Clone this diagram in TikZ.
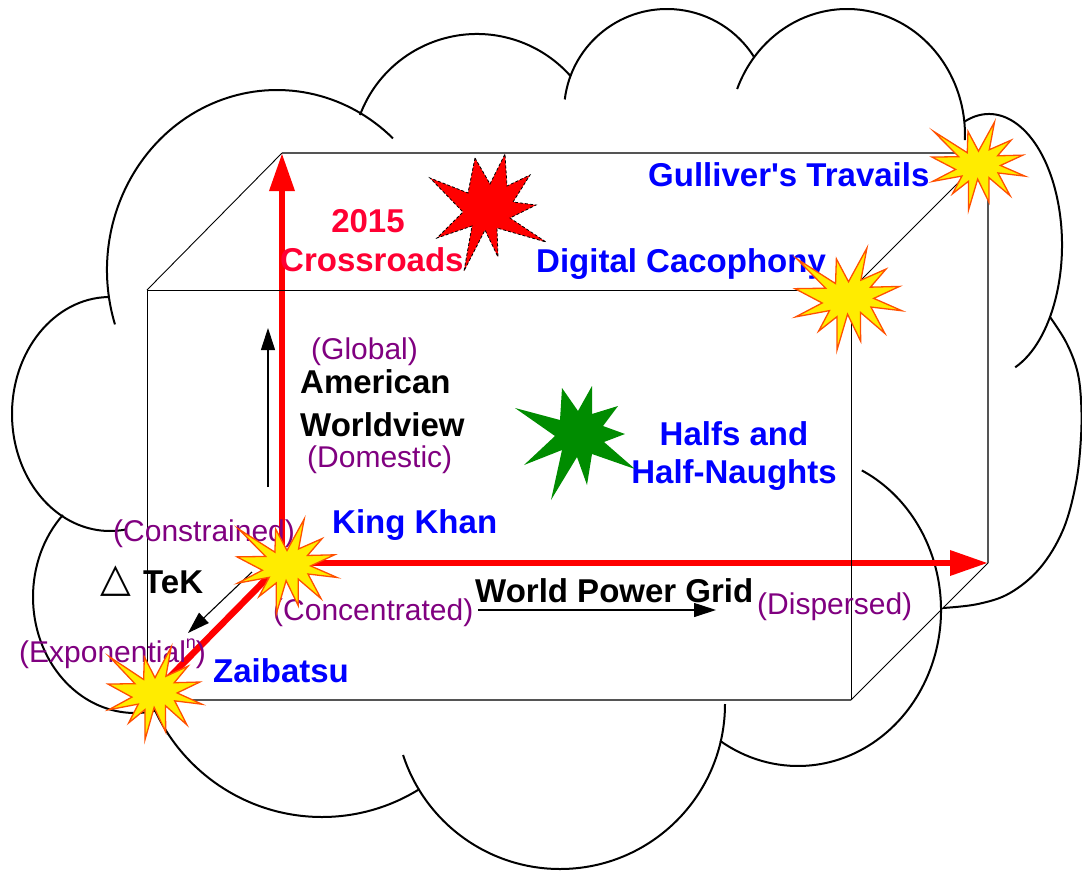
\documentclass[tikz,border=0pt]{standalone}
\usepackage{fontspec}
\setmainfont{Liberation Sans}
\newfontfamily\plainsans{Liberation Sans}
\newfontfamily\symfont{DejaVu Sans}
\usetikzlibrary{arrows.meta}
\definecolor{myblue}{RGB}{0,0,255}
\definecolor{mypurple}{RGB}{128,0,128}
\definecolor{myred}{RGB}{255,0,0}
\definecolor{textred}{RGB}{255,0,51}
\definecolor{boxgray}{RGB}{85,85,85}
\definecolor{starfill}{RGB}{255,236,0}
\definecolor{starline}{RGB}{255,80,0}
\definecolor{mygreen}{RGB}{0,140,0}
\newcommand\boomstar[4]{%
  \begin{scope}[shift={(#1,#2)}, xscale=#3/100, yscale=#4/100]
    \draw[yellowstar] (50,33.1) -- (67.23,0) -- (61.6,31.5) -- (85.09,20.63) -- (70.5,38.4) -- (97.67,37.67) -- (73.6,49.4) -- (100,61.53) -- (71.0,57.9) -- (84.00,83.77) -- (61.2,63.2) -- (61.33,91.38) -- (49.1,64.9) -- (39.28,100) -- (39.3,67.3) -- (22.05,81.56) -- (32.2,61.4) -- (0.63,67.53) -- (25.4,53.9) -- (0,39.88) -- (28.6,39.4) -- (1.71,10.63) -- (37.9,34.9) -- (38.67,10.63) -- cycle;
  \end{scope}}
\begin{document}
\begin{tikzpicture}[x=1pt,y=-1pt,
  cloudline/.style={line width=2pt, black},
  frontedge/.style={line width=0.9pt, black},
  backedge/.style={line width=1.6pt, boxgray},
  redarrow/.style={line width=6.5pt, myred, -{Triangle[length=38pt,width=24pt]}},
  redline/.style={line width=6.5pt, myred},
  thinarrow/.style={line width=1.1pt, black, -{Triangle[length=22pt,width=14pt]}},
  yellowstar/.style={fill=starfill, draw=starline, line width=1.3pt, line join=miter, miter limit=20},
  bluelabel/.style={font=\fontsize{33}{36}\selectfont\bfseries, text=myblue, inner sep=0pt, anchor=base west},
  blacklabel/.style={font=\fontsize{33}{36}\selectfont\bfseries, text=black, inner sep=0pt, anchor=base west},
  redlabel/.style={font=\fontsize{33}{36}\selectfont\bfseries, text=textred, inner sep=0pt, anchor=base west},
  purplelabel/.style={font=\fontsize{30}{33}\selectfont, text=mypurple, inner sep=0pt, anchor=base west}]
\fill[white] (0,0) rectangle (1082,873);
\useasboundingbox (0,0) rectangle (1082,873);

% ---------- cloud ----------
\draw[cloudline] ([shift={(110,414)}]-91:98 and 117) arc[start angle=-91, end angle=-279, x radius=98, y radius=117];
\draw[cloudline] ([shift={(277,270)}]-197.6:170 and 180) arc[start angle=-197.6, end angle=-47, x radius=170, y radius=180];
\draw[cloudline] ([shift={(477,159)}]-159.4:125 and 125) arc[start angle=-159.4, end angle=-41.4, x radius=125, y radius=125];
\draw[cloudline] ([shift={(667,112)}]-173:103 and 103) arc[start angle=-173, end angle=-32.6, x radius=103, y radius=103];
\draw[cloudline] ([shift={(847,135)}]-158.6:118 and 126) arc[start angle=-158.6, end angle=2.3, x radius=118, y radius=126];
\draw[cloudline] ([shift={(989,245)}]-110:73 and 131) arc[start angle=-110, end angle=69, x radius=73, y radius=131];
\draw[cloudline] plot[smooth, tension=0.6] coordinates {(1050,317) (1066,342) (1077,370) (1081,400) (1081,437) (1076,483) (1063,530) (1040,568) (1010,593) (978,604) (943,608)};
\draw[cloudline] ([shift={(798,610)}]-63.5:143 and 156) arc[start angle=-63.5, end angle=123, x radius=143, y radius=156];
\draw[cloudline] ([shift={(560,704)}]0:165 and 165) arc[start angle=0, end angle=162, x radius=165, y radius=165];
\draw[cloudline] ([shift={(322,633)}]-204:184 and 184) arc[start angle=-204, end angle=-302, x radius=184, y radius=184];
\draw[cloudline] ([shift={(135,597)}]-135:102 and 116) arc[start angle=-135, end angle=-287, x radius=102, y radius=116];

% ---------- box corners ----------
\coordinate (Ftl) at (147,290);
\coordinate (Ftr) at (851,290);
\coordinate (Fbr) at (851,700);
\coordinate (Fbl) at (147,700);
\coordinate (Btl) at (282,153);
\coordinate (Btr) at (988,153);
\coordinate (Bbr) at (988,563);
\coordinate (Bbl) at (282,563);
\coordinate (Zend) at (152,695);

% ---------- red axes ----------
\draw[redarrow] (Bbl) -- (Btl);
\draw[redarrow] (Bbl) -- (Bbr);
\draw[redline] (Bbl) -- (Zend);

% ---------- box ----------
\draw[frontedge] (Fbl) -- (Ftl) -- (Ftr) -- (Fbr);
\draw[backedge] (Fbl) -- (Fbr);
\draw[frontedge] (Ftl) -- (Btl);
\draw[frontedge] (Ftr) -- (Btr);
\draw[frontedge] (Fbr) -- (Bbr);
\draw[backedge] (Btl) -- (Btr) -- (Bbr);

% ---------- thin arrows ----------
\coordinate (vA) at (268,487);
\coordinate (vB) at (268,328);
\coordinate (hA) at (478,610);
\coordinate (hB) at (716,610);
\coordinate (dA) at (252,572);
\coordinate (dB) at (188,633);
\draw[thinarrow] (vA) -- (vB);
\draw[thinarrow] (hA) -- (hB);
\draw[thinarrow] (dA) -- (dB);

% ---------- labels ----------
\node[bluelabel] (gulliver) at (648,186) {\plainsans Gulliver's Travails};
\node[bluelabel] (digital) at (536,272) {Digital Cacophony};
\node[redlabel, anchor=base] (y2015) at (368,232) {2015};
\node[redlabel] (crossroads) at (280,271) {Crossroads};
\node[purplelabel] (global) at (311,359) {(Global)};
\node[blacklabel] (american) at (300,393) {American};
\node[blacklabel] (worldview) at (300,436) {Worldview};
\node[purplelabel] (domestic) at (307,467) {(Domestic)};
\node[bluelabel] (kingkhan) at (332,533) {King Khan};
\node[bluelabel, anchor=base] (halfs) at (734,445) {Halfs and};
\node[bluelabel, anchor=base] (halfnaughts) at (734,483) {Half-Naughts};
\node[purplelabel] (constrained) at (113,541) {(Constrained)};
\node[inner sep=0pt, anchor=base west, font=\fontsize{40}{44}\selectfont\symfont] (tri) at (100,591) {△};
\node[blacklabel] (tek) at (143,593) {TeK};
\node[blacklabel] (wpg) at (475,602) {World Power Grid};
\node[purplelabel] (concentrated) at (273,620) {(Concentrated)};
\node[purplelabel] (dispersed) at (757,614) {(Dispersed)};
\node[purplelabel] (exponential) at (19,662) {(Exponential\raisebox{14pt}{\fontsize{18}{18}\selectfont n})};
\node[bluelabel] (zaibatsu) at (213,682) {Zaibatsu};

% ---------- stars ----------
\fill[mygreen] (515,408) -- (560,420) -- (562,388) -- (578,411) -- (592,386) -- (592,414) -- (618,406) -- (603,426) -- (625,434) -- (604,442) -- (635,469) -- (592,454) -- (587,485) -- (577,457) -- (551,500) -- (562,450) -- (524,465) -- (555,436) -- cycle;
\draw[fill=myred, draw=black, line width=0.8pt, dash pattern=on 3pt off 2pt] (475,158) -- (490,184) -- (505,154) -- (507,186) -- (530,175) -- (513,202) -- (536,205) -- (510,218) -- (546,242) -- (497,228) -- (498,257) -- (485,230) -- (464,271) -- (472,226) -- (437,238) -- (463,212) -- (430,178) -- (468,193) -- cycle;
\boomstar{237}{519}{100}{95}
\boomstar{932}{122}{93}{88}
\boomstar{795}{248}{107}{102}
\boomstar{108}{647}{94}{93}
\end{tikzpicture}
\end{document}
